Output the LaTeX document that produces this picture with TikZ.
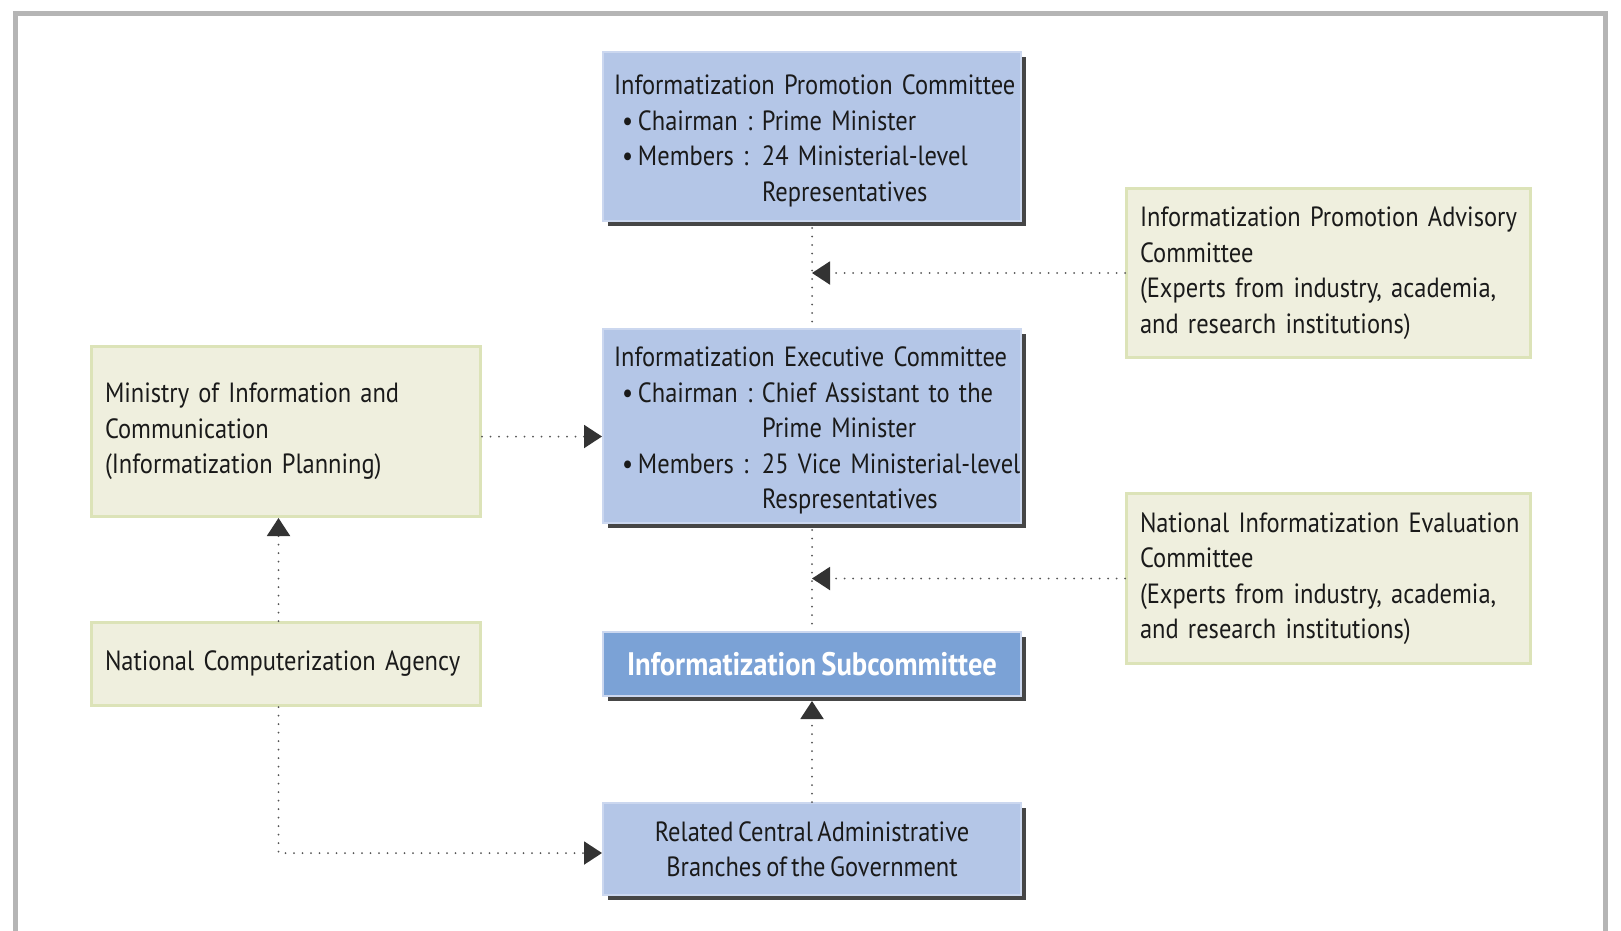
\documentclass[tikz,border=0pt]{standalone}
\usepackage{fontspec}
\setmainfont{PT Sans}[FakeStretch=0.88,WordSpace=0.7]
\usetikzlibrary{arrows.meta,shadows}
\definecolor{framegray}{HTML}{B5B5B5}
\definecolor{bluefill}{HTML}{B4C6E7}
\definecolor{blueline}{HTML}{CBD7EF}
\definecolor{subfill}{HTML}{7BA2D6}
\definecolor{greenfill}{HTML}{EFEFDE}
\definecolor{greenline}{HTML}{DCE3B8}
\definecolor{shadowgray}{HTML}{464646}
\definecolor{arrowdark}{HTML}{333333}
\definecolor{dotgray}{HTML}{555555}
\definecolor{txt}{HTML}{1A1A1A}
\newlength\calw
\newlength\calb
\newcommand\oneline[1]{\mbox{#1}}
\newcommand\topline[1]{\mbox{\rule{0pt}{29pt}#1}}
\newcommand\bul[2]{\mbox{\hspace*{8pt}\makebox[16pt][l]{\textbullet}\makebox[124pt][l]{#1}#2}}
\newcommand\cont[1]{\mbox{\hspace*{148pt}#1}}
\begin{document}
\settowidth\calw{\fontsize{26pt}{30pt}\selectfont Informatization Promotion Committee}%
\settowidth\calb{\fontsize{26pt}{30pt}\selectfont\bfseries Informatization Subcommittee}%
\pgfmathsetmacro\fsz{26*392/(\calw+0.001pt)}%
\pgfmathsetmacro\fsb{26*370/(\calb+0.001pt)}%
\xdef\bodyfont{\noexpand\fontsize{\fsz pt}{35.5pt}\noexpand\selectfont}%
\xdef\subfont{\noexpand\fontsize{\fsb pt}{35.5pt}\noexpand\selectfont\noexpand\bfseries}%
\begin{tikzpicture}[x=1pt,y=-1pt,
  bluebox/.style={draw=blueline, line width=2pt, fill=bluefill, anchor=north west,
    drop shadow={shadow xshift=5pt, shadow yshift=-5pt, fill=shadowgray, opacity=1},
    inner xsep=11pt, inner ysep=0pt, text=txt, font=\bodyfont},
  subbox/.style={bluebox, fill=subfill, text=white, font=\subfont, align=center},
  greenbox/.style={draw=greenline, line width=3pt, fill=greenfill, anchor=north west,
    inner xsep=13.5pt, inner ysep=0pt, text=txt, font=\bodyfont, align=left},
  dotline/.style={draw=dotgray, line width=2pt, dash pattern=on 0pt off 8.5pt, line cap=round},
  arr/.style={dotline, -{Triangle[length=18pt,width=23pt,color=arrowdark]}}]
\useasboundingbox (0,0) rectangle (1621,930);
\fill[white] (0,0) rectangle (1621,930);
\draw[framegray, line width=5pt] (15,940) -- (15,13) -- (1605,13) -- (1605,940);

\node[bluebox, minimum width=418pt, minimum height=169pt, text width=396pt, align=left] (ipc) at (602,51)
  {\topline{Informatization Promotion Committee}\\
   \bul{Chairman :}{Prime Minister}\\
   \bul{Members :}{24 Ministerial-level}\\
   \cont{Representatives}};
\node[bluebox, minimum width=418pt, minimum height=194pt, text width=396pt, align=left] (exe) at (602,328)
  {\topline{Informatization Executive Committee}\\
   \bul{Chairman :}{Chief Assistant to the}\\
   \cont{Prime Minister}\\
   \bul{Members :}{25 Vice Ministerial-level}\\
   \cont{Respresentatives}};
\node[subbox, minimum width=418pt, minimum height=64pt] (sub) at (602,631)
  {Informatization Subcommittee};
\node[bluebox, minimum width=418pt, minimum height=92pt, align=center] (rel) at (602,802)
  {Related Central Administrative\\Branches of the Government};

\node[greenbox, minimum width=389pt, minimum height=170pt, text width=362pt] (min) at (90,345)
  {\oneline{Ministry of Information and}\\\oneline{Communication}\\\oneline{(Informatization Planning)}};
\node[greenbox, minimum width=389pt, minimum height=83pt, text width=362pt] (nca) at (90,621)
  {\oneline{National Computerization Agency}};
\node[greenbox, minimum width=404pt, minimum height=169pt, text width=377pt] (adv) at (1125,187)
  {\oneline{Informatization Promotion Advisory}\\\oneline{Committee}\\\oneline{(Experts from industry, academia,}\\\oneline{and research institutions)}};
\node[greenbox, minimum width=404pt, minimum height=170pt, text width=377pt] (eva) at (1125,492)
  {\oneline{National Informatization Evaluation}\\\oneline{Committee}\\\oneline{(Experts from industry, academia,}\\\oneline{and research institutions)}};

\draw[dotline] ([yshift=-6pt]ipc.south) -- (exe.north);
\draw[dotline] ([yshift=-6pt]exe.south) -- (sub.north);
\draw[arr] (adv.west) -- (adv.west -| ipc.south);
\draw[arr] (eva.west) -- (eva.west -| exe.south);
\draw[arr] ([yshift=-5pt]min.east) -- ([yshift=-5pt]min.east -| exe.west);
\draw[arr] (rel.north) -- ([yshift=-4pt]sub.south);
\draw[arr] ([xshift=-7.5pt]nca.north) -- ([xshift=-7.5pt]min.south);
\coordinate (bend) at ([xshift=-7.5pt]nca.south |- 0,853);
\draw[arr] ([xshift=-7.5pt]nca.south) -- (bend) -- (bend -| rel.west);
\end{tikzpicture}
\end{document}
